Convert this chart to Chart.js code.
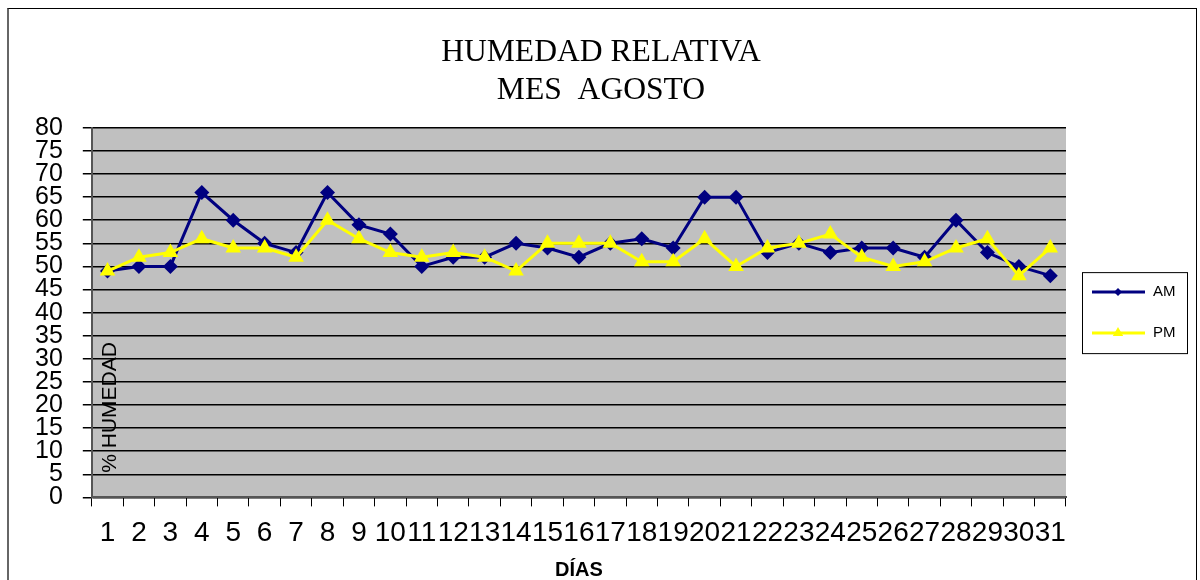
<!DOCTYPE html>
<html>
<head>
<meta charset="utf-8">
<title>Humedad relativa - mes agosto</title>
<script src="https://cdn.jsdelivr.net/npm/chart.js@4.4.0/dist/chart.umd.min.js"></script>
<style>
  html, body { margin: 0; padding: 0; background: #fff; overflow: hidden; }
  #marco { position: absolute; left: 7px; top: 8px; width: 1187px; height: 600px;
           border: 1px solid #000; border-left: 2px solid #666; }
  #grafico { position: absolute; left: 0; top: 0; }
</style>
</head>
<body>
<div id="marco"></div>
<canvas id="grafico" width="1200" height="580"></canvas>

<script>
// datos (humedad relativa, agosto)
var dias = ['1', '2', '3', '4', '5', '6', '7', '8', '9', '10', '11', '12', '13', '14', '15', '16',
            '17', '18', '19', '20', '21', '22', '23', '24', '25', '26', '27', '28', '29', '30', '31'];
var humedadAM = [49, 50, 50, 66, 60, 55, 53, 66, 59, 57, 50, 52, 52, 55, 54, 52,
                 55, 56, 54, 65, 65, 53, 55, 53, 54, 54, 52, 60, 53, 50, 48];
var humedadPM = [49, 52, 53, 56, 54, 54, 52, 60, 56, 53, 52, 53, 52, 49, 55, 55,
                 55, 51, 51, 56, 50, 54, 55, 57, 52, 50, 51, 54, 56, 48, 54];
var series = ['AM', 'PM'];
var ejeYMin = 0;
var ejeYMax = 80;
var ejeYPaso = 5;

var fuenteSans = "'Liberation Sans', Arial, sans-serif";
var fuenteSerif = "'Liberation Serif', 'Times New Roman', serif";

// fondo gris del area de trazado
var fondoGris = {
	id: 'fondoGris',
	beforeDraw: function(chart) {
		var a = chart.chartArea;
		var ctx = chart.ctx;
		ctx.save();
		ctx.fillStyle = '#C0C0C0';
		ctx.fillRect(a.left, a.top, a.right - a.left, a.bottom - a.top);
		ctx.restore();
	}
};

// titulo del eje Y, va dentro del area de trazado
var tituloEjeY = {
	id: 'tituloEjeY',
	afterDraw: function(chart) {
		var a = chart.chartArea;
		var ctx = chart.ctx;
		ctx.save();
		ctx.translate(a.left + 18, a.bottom - 90);
		ctx.rotate(-Math.PI / 2);
		ctx.font = '21px ' + fuenteSans;
		ctx.fillStyle = '#000';
		ctx.textAlign = 'center';
		ctx.textBaseline = 'middle';
		ctx.fillText('% HUMEDAD', 0, 0);
		ctx.restore();
	}
};

function marcador(ctx, estilo, x, y, r) {
	ctx.beginPath();
	if (estilo == 'rectRot') {
		ctx.moveTo(x - r, y);
		ctx.lineTo(x, y - r);
		ctx.lineTo(x + r, y);
		ctx.lineTo(x, y + r);
	} else {
		ctx.moveTo(x, y - r);
		ctx.lineTo(x + r * 0.866, y + r * 0.5);
		ctx.lineTo(x - r * 0.866, y + r * 0.5);
	}
	ctx.closePath();
	ctx.fill();
}

// leyenda con recuadro, a la derecha
var leyendaCaja = {
	id: 'leyendaCaja',
	afterDraw: function(chart) {
		var a = chart.chartArea;
		var ctx = chart.ctx;
		var x = a.right + 16;
		var w = 105;
		var h = 81;
		var y = (a.top + a.bottom) / 2 - h / 2;
		ctx.save();
		ctx.fillStyle = '#fff';
		ctx.fillRect(x, y, w, h);
		ctx.strokeStyle = '#000';
		ctx.lineWidth = 1;
		ctx.strokeRect(x + 0.5, y + 0.5, w, h);

		var sets = chart.data.datasets;
		for (var i = 0; i < sets.length; i++) {
			var ly = y + 20 + i * 41;
			ctx.strokeStyle = sets[i].borderColor;
			ctx.fillStyle = sets[i].borderColor;
			ctx.lineWidth = 3;
			ctx.beginPath();
			ctx.moveTo(x + 10, ly);
			ctx.lineTo(x + 63, ly);
			ctx.stroke();
			marcador(ctx, sets[i].pointStyle, x + 36, ly, sets[i].pointStyle == 'rectRot' ? 4 : 6);
			ctx.fillStyle = '#000';
			ctx.font = '15px ' + fuenteSans;
			ctx.textAlign = 'left';
			ctx.textBaseline = 'middle';
			ctx.fillText(sets[i].label, x + 71, ly);
		}
		ctx.restore();
	}
};

var ctx = document.getElementById('grafico');

var grafico = new Chart(ctx, {
	type: 'line',
	data: {
		labels: dias,
		datasets: [{
			label: series[0],
			data: humedadAM,
			borderColor: '#000080',
			backgroundColor: '#000080',
			borderWidth: 3,
			pointStyle: 'rectRot',
			pointRadius: 7.5,
			pointBorderWidth: 0,
			pointBackgroundColor: '#000080',
			tension: 0,
			order: 1
		}, {
			label: series[1],
			data: humedadPM,
			borderColor: '#FFFF00',
			backgroundColor: '#FFFF00',
			borderWidth: 3,
			pointStyle: 'triangle',
			pointRadius: 9,
			pointBorderWidth: 0,
			pointBackgroundColor: '#FFFF00',
			tension: 0,
			order: 0
		}]
	},
	options: {
		responsive: false,
		animation: false,
		events: [],
		layout: {
			padding: { left: 15, right: 13, top: 0, bottom: 0 }
		},
		plugins: {
			legend: { display: false },
			tooltip: { enabled: false },
			title: {
				display: true,
				text: ['HUMEDAD RELATIVA', 'MES  AGOSTO'],
				color: '#000',
				font: { family: fuenteSerif, size: 31.6, weight: 'normal', lineHeight: 1.2 },
				padding: { top: 34, bottom: 18 }
			}
		},
		scales: {
			x: {
				offset: true,
				grid: {
					display: true,
					drawOnChartArea: false,
					offset: true,
					tickLength: 9,
					color: '#000',
					lineWidth: 1
				},
				border: { color: '#555', width: 2 },
				ticks: {
					autoSkip: false,
					maxRotation: 0,
					minRotation: 0,
					color: '#000',
					padding: 10,
					font: { family: fuenteSans, size: 28 }
				},
				title: {
					display: true,
					text: 'DÍAS',
					color: '#000',
					font: { family: fuenteSans, size: 20, weight: 'bold', lineHeight: 1 },
					padding: { top: 0, bottom: 0 }
				}
			},
			y: {
				min: ejeYMin,
				max: ejeYMax,
				grid: {
					color: '#000',
					lineWidth: 1.5,
					tickLength: 9
				},
				border: { color: '#555', width: 2 },
				ticks: {
					stepSize: ejeYPaso,
					autoSkip: false,
					color: '#000',
					padding: 20,
					font: { family: fuenteSans, size: 25 }
				}
			},
			// eje vacio a la derecha: deja sitio para la leyenda
			hueco: {
				type: 'linear',
				position: 'right',
				grid: { display: false },
				border: { display: false },
				ticks: { display: false },
				afterFit: function(scale) {
					scale.width = 121;
				}
			}
		}
	},
	plugins: [fondoGris, tituloEjeY, leyendaCaja]
});
</script>
</body>
</html>
